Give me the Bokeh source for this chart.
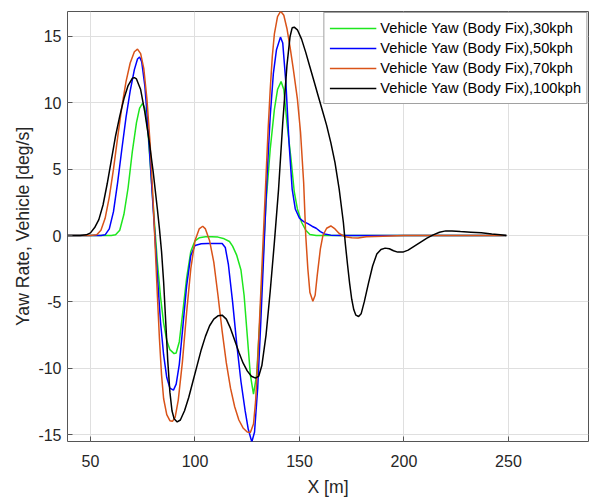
from bokeh.plotting import figure
from bokeh.models import Range1d, FixedTicker, Legend, LegendItem
from bokeh.embed import file_html
from bokeh.resources import INLINE

# ---- data ----
x_30 = [39, 60, 62, 64, 66, 68, 70, 72, 73.5, 74.9, 76, 77.5, 79, 80.5, 82, 83.5, 85, 86.5, 88, 90, 91,
        92.5, 94, 96, 98, 100, 102, 105, 108, 111, 114, 116.5, 118, 120, 122, 123.5, 125, 126.5, 128,
        129.5, 131, 132.5, 134, 136, 138, 139.5, 141.2, 142.5, 144, 146, 147.5, 149, 151, 153, 155, 158, 249]
yaw_30 = [0, 0, 0.05, 0.4, 1.6, 3.6, 6.3, 8.5, 9.6, 9.95, 9.6, 7.8, 4.5, 1.2, -2.0, -4.6, -6.6, -7.9, -8.6, -8.9, -8.85,
          -8.0, -6.0, -3.2, -1.2, -0.4, -0.17, -0.1, -0.1, -0.12, -0.25, -0.45, -0.8, -1.5, -2.6, -4.5, -7.5, -10.5, -11.95,
          -10.5, -6.5, -2.0, 2.5, 6.5, 9.5, 11.0, 11.6, 11.0, 8.5, 5.7, 3.3, 2.0, 1.0, 0.4, 0.08, 0, 0]

x_50 = [39, 55, 57, 59, 61, 63, 65, 67, 69, 71, 72.5, 73.5, 74.5, 76, 77.5, 79, 80.5, 82, 83.5, 85, 86.5, 88,
        89.7, 91, 92.5, 94, 96, 98, 100, 103, 106, 110, 113, 114.5, 116, 118, 120, 122, 124, 125.5, 127.2,
        128.5, 130, 131.5, 133, 134.5, 136, 137.5, 139, 140.9, 142, 143.5, 145, 146.5, 148, 150, 152, 154,
        156, 158, 160, 162, 165, 170, 249]
yaw_50 = [0, 0, 0.05, 0.5, 1.8, 4.0, 6.5, 8.9, 10.9, 12.5, 13.3, 13.45, 13.1, 11.3, 8.2, 4.5, 0.8, -3.0, -6.5, -9.0, -10.7, -11.5,
          -11.65, -11.2, -9.7, -7.2, -3.8, -1.5, -0.75, -0.62, -0.6, -0.6, -0.6, -0.9, -2.2, -5.0, -8.2, -11.0, -13.2, -14.6, -15.55,
          -14.8, -11.5, -6.5, -1.0, 4.5, 9.0, 12.2, 14.0, 14.95, 14.5, 11.5, 7.0, 3.5, 2.0, 1.3, 1.05, 0.9,
          0.7, 0.55, 0.3, 0.12, 0.03, 0, 0]

x_70 = [39, 50, 53, 55, 57, 59, 61, 63, 65, 67, 69, 71, 72.5, 74, 75.5, 77, 78.5, 80, 81, 82, 83, 84, 85, 86.5,
        88, 89.2, 90.5, 92, 94, 96, 98, 100, 102, 103.7, 105, 107, 109, 111, 113, 115, 117, 119, 121, 123,
        125, 126.5, 128, 129, 130, 131, 132, 133, 134, 135, 136, 137, 138, 139.5, 141, 142.5, 144, 145.5,
        147, 149, 150.5, 152, 153, 154, 155, 156.4, 157.5, 158.5, 160, 161.2, 163, 165, 167, 169, 172, 175,
        178, 182, 190, 200, 249]
yaw_70 = [0, 0, 0.05, 0.4, 1.3, 2.9, 5.0, 7.4, 9.7, 11.6, 13.0, 13.85, 14.05, 13.7, 12.6, 10.3, 7.0, 2.5, -1.0, -4.5, -7.8, -10.5, -12.3, -13.5,
          -13.95, -14.0, -13.7, -12.4, -9.5, -5.8, -2.5, -0.4, 0.5, 0.7, 0.5, -0.4, -2.0, -4.5, -7.2, -9.6, -11.5, -12.9, -13.9, -14.5,
          -14.8, -14.85, -14.2, -12.5, -9.5, -6.0, -2.5, 1.0, 4.5, 8.0, 11.0, 13.5, 15.2, 16.5, 16.9, 16.6, 15.6, 14.2,
          12.6, 10.3, 7.8, 4.0, 0.0, -2.5, -4.3, -4.95, -4.5, -3.0, -1.0, 0.0, 0.55, 0.72, 0.5, 0.15, -0.1, -0.17,
          -0.18, -0.1, -0.05, 0, 0]

x_100 = [39, 45, 48, 50, 52, 54, 56, 58, 60, 62, 64, 66, 68, 70, 71, 72, 74, 76, 78, 80, 82, 83, 84, 85, 86, 87,
         88, 89, 90, 91.5, 93, 95, 97, 99, 101, 103, 105, 107, 109, 111, 113, 115, 117, 119, 121, 123, 125,
         127, 129, 130.5, 132, 134, 136, 138, 140, 142, 144, 145.5, 146.5, 147.5, 149, 151, 153, 155, 157,
         159, 161, 163, 165, 167, 169, 171, 172, 173, 174, 175, 176, 177, 178.3, 179.5, 181, 183, 185, 187,
         189, 191, 193, 195, 197, 199.5, 202, 205, 208, 211, 214, 217, 220, 223, 227, 232, 237, 242, 246, 249]
yaw_100 = [0, 0, 0.05, 0.2, 0.6, 1.2, 2.3, 3.9, 5.7, 7.5, 9.0, 10.3, 11.3, 11.85, 11.9, 11.8, 11.0, 9.3, 7.2, 4.8, 2.0, 0.5, -1.2, -3.5, -6.5, -9.5,
           -11.8, -13.2, -13.8, -14.05, -13.9, -13.2, -12.2, -11.0, -9.8, -8.6, -7.6, -6.8, -6.3, -6.05, -6.0, -6.3, -7.0, -7.9, -8.8, -9.6, -10.2,
           -10.6, -10.75, -10.6, -9.8, -7.5, -4.2, -0.5, 3.5, 8.5, 12.8, 15.0, 15.65, 15.7, 15.5, 14.8, 13.8, 12.7, 11.6,
           10.5, 9.4, 8.3, 7.0, 5.5, 3.5, 1.0, -0.7, -2.2, -3.6, -4.8, -5.6, -6.0, -6.1, -5.9, -5.0, -3.6, -2.3, -1.4,
           -1.05, -0.95, -1.0, -1.15, -1.25, -1.25, -1.1, -0.8, -0.5, -0.2, 0.05, 0.25, 0.35, 0.35, 0.3, 0.25, 0.2, 0.12, 0.06, 0.0]

series_labels = ["Vehicle Yaw (Body Fix),30kph", "Vehicle Yaw (Body Fix),50kph",
                 "Vehicle Yaw (Body Fix),70kph", "Vehicle Yaw (Body Fix),100kph"]
series_colors = ["#1ee61e", "#0000ff", "#d95319", "#000000"]
x_ticks = [50, 100, 150, 200, 250]
y_ticks = [-15, -10, -5, 0, 5, 10, 15]

FONT = "Liberation Sans"
TXT = "#262626"

p = figure(width=591, height=499, output_backend="svg", toolbar_location=None,
           x_range=Range1d(39, 288.3), y_range=Range1d(-15.52, 16.88),
           min_border_left=67, min_border_right=3, min_border_top=11, min_border_bottom=57)
p.background_fill_color = "white"
p.border_fill_color = "white"
p.outline_line_color = "#555555"
p.outline_line_width = 1

renderers = []
for xs, ys, c in zip([x_30, x_50, x_70, x_100], [yaw_30, yaw_50, yaw_70, yaw_100], series_colors):
    renderers.append(p.line(xs, ys, line_color=c, line_width=1.5))

for ax in (p.xaxis[0], p.yaxis[0]):
    ax.axis_line_color = None
    ax.major_tick_in = 5
    ax.major_tick_out = 0
    ax.minor_tick_line_color = None
    ax.major_tick_line_color = "#555555"
    ax.major_label_text_font = FONT
    ax.major_label_text_font_size = "16px"
    ax.major_label_text_color = TXT
    ax.axis_label_text_font = FONT
    ax.axis_label_text_font_size = "17.6px"
    ax.axis_label_text_font_style = "normal"
    ax.axis_label_text_color = TXT

p.xaxis.ticker = FixedTicker(ticks=x_ticks)
p.yaxis.ticker = FixedTicker(ticks=y_ticks)
p.yaxis.major_label_overrides = {t: str(t) for t in y_ticks}
p.xaxis.axis_label = "X [m]"
p.yaxis.axis_label = "Yaw Rate, Vehicle [deg/s]"
p.xaxis.major_label_standoff = 13
p.xaxis.axis_label_standoff = 7
p.yaxis.major_label_standoff = 6
p.yaxis.axis_label_standoff = 2

p.xgrid.ticker = FixedTicker(ticks=x_ticks)
p.ygrid.ticker = FixedTicker(ticks=y_ticks)
p.grid.grid_line_color = "#dfdfdf"
p.grid.grid_line_width = 1

legend = Legend(items=[LegendItem(label=l, renderers=[r]) for l, r in zip(series_labels, renderers)],
                location="top_right", margin=1, padding=5, spacing=0,
                glyph_width=47, glyph_height=20, label_height=20, label_standoff=4,
                label_text_font=FONT, label_text_font_size="14.6px", label_text_color="#000000",
                border_line_color="#444444", border_line_width=1,
                background_fill_color="white", background_fill_alpha=1)
p.add_layout(legend, "center")

open("out.html", "w").write(file_html(p, INLINE))
